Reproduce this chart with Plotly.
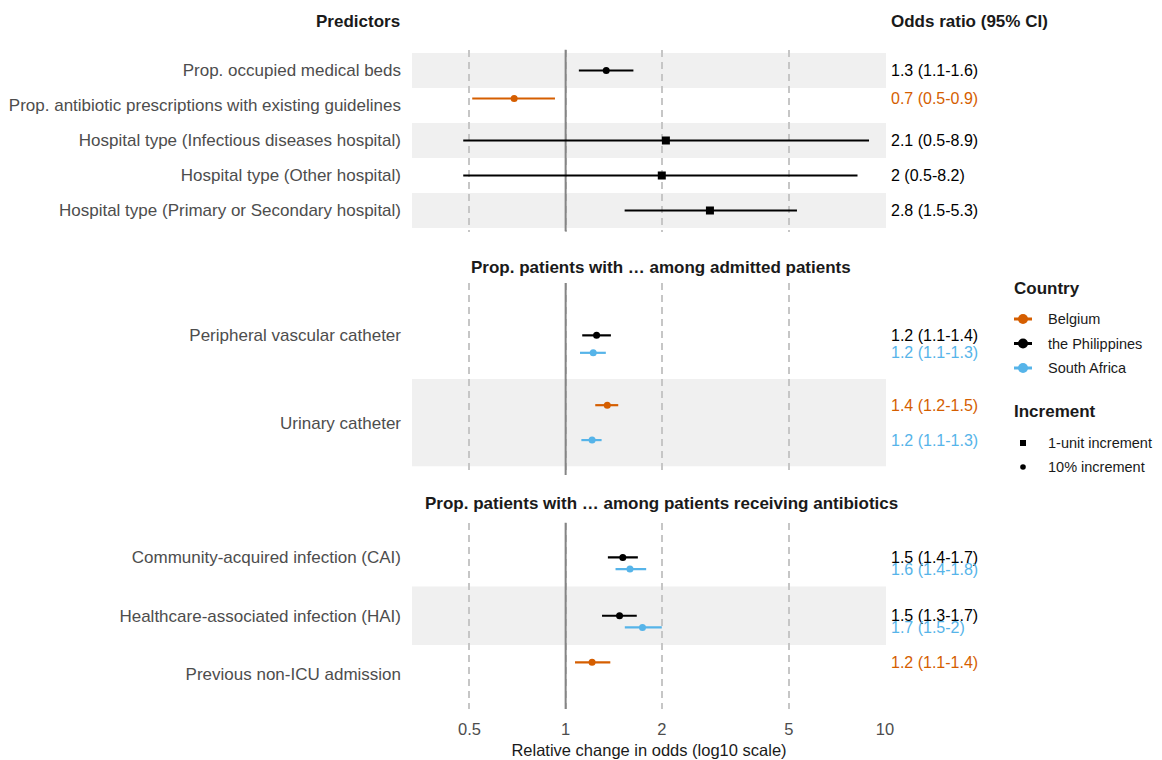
import plotly.graph_objects as go
import numpy as np

# ---------------- data ----------------
panel_titles = ["",
                "Prop. patients with … among admitted patients",
                "Prop. patients with … among patients receiving antibiotics"]

panel1_predictors = ["Prop. occupied medical beds",
                     "Prop. antibiotic prescriptions with existing guidelines",
                     "Hospital type (Infectious diseases hospital)",
                     "Hospital type (Other hospital)",
                     "Hospital type (Primary or Secondary hospital)"]
panel2_predictors = ["Peripheral vascular catheter", "Urinary catheter"]
panel3_predictors = ["Community-acquired infection (CAI)",
                     "Healthcare-associated infection (HAI)",
                     "Previous non-ICU admission"]
panel_predictors = [panel1_predictors, panel2_predictors, panel3_predictors]
panel_shaded = [[True, False, True, False, True], [False, True], [False, True, False]]

est_panel = [1, 1, 1, 1, 1, 2, 2, 2, 2, 3, 3, 3, 3, 3]
est_predictor = ["Prop. occupied medical beds",
                 "Prop. antibiotic prescriptions with existing guidelines",
                 "Hospital type (Infectious diseases hospital)",
                 "Hospital type (Other hospital)",
                 "Hospital type (Primary or Secondary hospital)",
                 "Peripheral vascular catheter", "Peripheral vascular catheter",
                 "Urinary catheter", "Urinary catheter",
                 "Community-acquired infection (CAI)", "Community-acquired infection (CAI)",
                 "Healthcare-associated infection (HAI)", "Healthcare-associated infection (HAI)",
                 "Previous non-ICU admission"]
est_country = ["the Philippines", "Belgium", "the Philippines", "the Philippines", "the Philippines",
               "the Philippines", "South Africa", "Belgium", "South Africa",
               "the Philippines", "South Africa", "the Philippines", "South Africa", "Belgium"]
est_increment = ["10% increment", "10% increment", "1-unit increment", "1-unit increment",
                 "1-unit increment", "10% increment", "10% increment", "10% increment",
                 "10% increment", "10% increment", "10% increment", "10% increment",
                 "10% increment", "10% increment"]
odds_ratio = [1.34, 0.69, 2.06, 2.00, 2.83, 1.25, 1.22, 1.35, 1.21, 1.51, 1.59, 1.475, 1.74, 1.21]
ci_low = [1.10, 0.51, 0.478, 0.478, 1.53, 1.127, 1.109, 1.238, 1.12, 1.356, 1.433, 1.30, 1.532, 1.07]
ci_high = [1.63, 0.926, 8.91, 8.2, 5.30, 1.386, 1.336, 1.461, 1.296, 1.683, 1.787, 1.67, 2.0, 1.38]
or_label = ["1.3 (1.1-1.6)", "0.7 (0.5-0.9)", "2.1 (0.5-8.9)", "2 (0.5-8.2)", "2.8 (1.5-5.3)",
            "1.2 (1.1-1.4)", "1.2 (1.1-1.3)", "1.4 (1.2-1.5)", "1.2 (1.1-1.3)",
            "1.5 (1.4-1.7)", "1.6 (1.4-1.8)", "1.5 (1.3-1.7)", "1.7 (1.5-2)", "1.2 (1.1-1.4)"]

countries = ["Belgium", "the Philippines", "South Africa"]
increments = ["1-unit increment", "10% increment"]
x_ticks = [0.5, 1, 2, 5, 10]
reference_or = 1

# ---------------- style ----------------
country_color = {"Belgium": "#D55E00", "the Philippines": "#000000", "South Africa": "#56B4E9"}
country_dodge = {"Belgium": -0.2, "the Philippines": 0.0, "South Africa": 0.2}
inc_symbol = {"1-unit increment": "square", "10% increment": "circle"}
inc_size = {"1-unit increment": 8, "10% increment": 7}
FONT = "Liberation Sans, Arial, sans-serif"

OFF = 8                      # page body margin
W, H = 1154, 752
ML, MR = 412 - OFF, W - (886 - OFF)
PW = W - ML - MR
panel_px = [(49.5, 231.5), (283, 475), (522.5, 709)]  # page pixels top/bottom


def px2y(py):
    return 1 - (py - OFF) / H


def px2x(px):
    return (px - OFF - ML) / PW


fig = go.Figure()
shapes = []
annotations = []

for p in range(3):
    n = p + 1
    xa = "x" if n == 1 else f"x{n}"
    ya = "y" if n == 1 else f"y{n}"
    preds = panel_predictors[p]
    rows = {name: i + 1 for i, name in enumerate(preds)}
    # shaded bands
    for i, sh in enumerate(panel_shaded[p]):
        if sh:
            shapes.append(dict(type="rect", xref=f"{xa} domain", yref=ya, x0=0, x1=1,
                               y0=i + 0.5, y1=i + 1.5, fillcolor="#F0F0F0",
                               line=dict(width=0), layer="below"))
    # reference line (drawn beneath data)
    fig.add_trace(go.Scatter(x=[reference_or, reference_or], y=[0.4, len(preds) + 0.6],
                             mode="lines", xaxis=xa, yaxis=ya, showlegend=False,
                             line=dict(color="#858585", width=2), hoverinfo="skip"))
    idx = [k for k in range(len(est_panel)) if est_panel[k] == n]
    for c in countries:
        for inc in increments:
            sel = [k for k in idx if est_country[k] == c and est_increment[k] == inc]
            if not sel:
                continue
            xs = np.array([odds_ratio[k] for k in sel])
            lo = np.array([ci_low[k] for k in sel])
            hi = np.array([ci_high[k] for k in sel])
            ys = [rows[est_predictor[k]] + country_dodge[c] for k in sel]
            fig.add_trace(go.Scatter(
                x=xs, y=ys, mode="markers", xaxis=xa, yaxis=ya, showlegend=False,
                marker=dict(symbol=inc_symbol[inc], size=inc_size[inc], color=country_color[c]),
                error_x=dict(type="data", symmetric=False, array=hi - xs, arrayminus=xs - lo,
                             width=0, thickness=2.2, color=country_color[c]),
                hoverinfo="skip"))
    for k in idx:
        annotations.append(dict(xref="paper", yref=ya, x=px2x(889),
                                y=rows[est_predictor[k]] + country_dodge[est_country[k]],
                                text=or_label[k], showarrow=False, xanchor="left", yanchor="middle",
                                font=dict(family=FONT, size=16, color=country_color[est_country[k]])))
    top, bot = panel_px[p]
    fig.update_layout(**{
        ("xaxis" if n == 1 else f"xaxis{n}"): dict(
            type="log", range=[-0.481, 1.003], domain=[0, 1], anchor=ya,
            tickvals=x_ticks, ticktext=[str(v) for v in x_ticks],
            showticklabels=(n == 3), showgrid=True, gridcolor="#C6C6C6", gridwidth=1.8,
            griddash="7px,5px", zeroline=False, showline=False, ticks="",
            tickfont=dict(family=FONT, size=16.5, color="#4D4D4D"),
            ticklabelstandoff=8,
            title=dict(text="Relative change in odds (log10 scale)" if n == 3 else "",
                       font=dict(family=FONT, size=16.5, color="#1A1A1A"), standoff=7)),
        ("yaxis" if n == 1 else f"yaxis{n}"): dict(
            domain=[px2y(bot), px2y(top)], anchor=xa, range=[len(preds) + 0.6, 0.4],
            tickvals=list(range(1, len(preds) + 1)), ticktext=preds, showgrid=False,
            zeroline=False, showline=False, ticks="", ticklabelstandoff=10,
            tickfont=dict(family=FONT, size=17, color="#4D4D4D")),
    })
    if panel_titles[p]:
        annotations.append(dict(xref="paper", yref="paper", x=px2x(661),
                                y=px2y(267 if n == 2 else 504), text=f"<b>{panel_titles[p]}</b>",
                                showarrow=False, xanchor="center", yanchor="middle",
                                font=dict(family=FONT, size=17, color="#1A1A1A")))

# headers
annotations.append(dict(xref="paper", yref="paper", x=px2x(402), y=px2y(22),
                        text="<b>Predictors</b>", showarrow=False, xanchor="right", yanchor="middle",
                        font=dict(family=FONT, size=17, color="#1A1A1A")))
annotations.append(dict(xref="paper", yref="paper", x=px2x(889), y=px2y(22),
                        text="<b>Odds ratio (95% CI)</b>", showarrow=False, xanchor="left",
                        yanchor="middle", font=dict(family=FONT, size=17, color="#1A1A1A")))

# ---------------- legend (drawn as keys + labels) ----------------
LEG_X = 1012
KEY_X = 1023
TXT_X = 1046
country_title_y, country_first_y, item_gap = 288, 319, 24.5
inc_title_y, inc_first_y = 411, 443


def add_title(text, py):
    annotations.append(dict(xref="paper", yref="paper", x=px2x(LEG_X), y=px2y(py),
                            text=f"<b>{text}</b>", showarrow=False, xanchor="left",
                            yanchor="middle", font=dict(family=FONT, size=17, color="#1A1A1A")))


def add_label(text, py):
    annotations.append(dict(xref="paper", yref="paper", x=px2x(TXT_X), y=px2y(py),
                            text=text, showarrow=False, xanchor="left", yanchor="middle",
                            font=dict(family=FONT, size=14.5, color="#1A1A1A")))


add_title("Country", country_title_y)
for i, c in enumerate(countries):
    py = country_first_y + i * item_gap
    shapes.append(dict(type="line", xref="paper", yref="paper", x0=px2x(KEY_X - 9),
                       x1=px2x(KEY_X + 9), y0=px2y(py), y1=px2y(py),
                       line=dict(color=country_color[c], width=3)))
    shapes.append(dict(type="circle", xref="paper", yref="paper", xsizemode="pixel",
                       ysizemode="pixel", xanchor=px2x(KEY_X), yanchor=px2y(py),
                       x0=-5, x1=5, y0=-5, y1=5, fillcolor=country_color[c],
                       line=dict(width=0)))
    add_label(c, py)

add_title("Increment", inc_title_y)
for i, inc in enumerate(increments):
    py = inc_first_y + i * (467 - 443)
    half = 3 if inc_symbol[inc] == "square" else 2.8
    shapes.append(dict(type="rect" if inc_symbol[inc] == "square" else "circle",
                       xref="paper", yref="paper", xsizemode="pixel", ysizemode="pixel",
                       xanchor=px2x(KEY_X), yanchor=px2y(py), x0=-half, x1=half,
                       y0=-half, y1=half, fillcolor="#000000", line=dict(width=0)))
    add_label(inc, py)

fig.update_layout(
    width=W, height=H,
    margin=dict(l=ML, r=MR, t=0, b=0, autoexpand=False),
    paper_bgcolor="white", plot_bgcolor="white",
    font=dict(family=FONT, size=14, color="#1A1A1A"),
    shapes=shapes, annotations=annotations,
    showlegend=False,
)

fig.write_html("out.html")
